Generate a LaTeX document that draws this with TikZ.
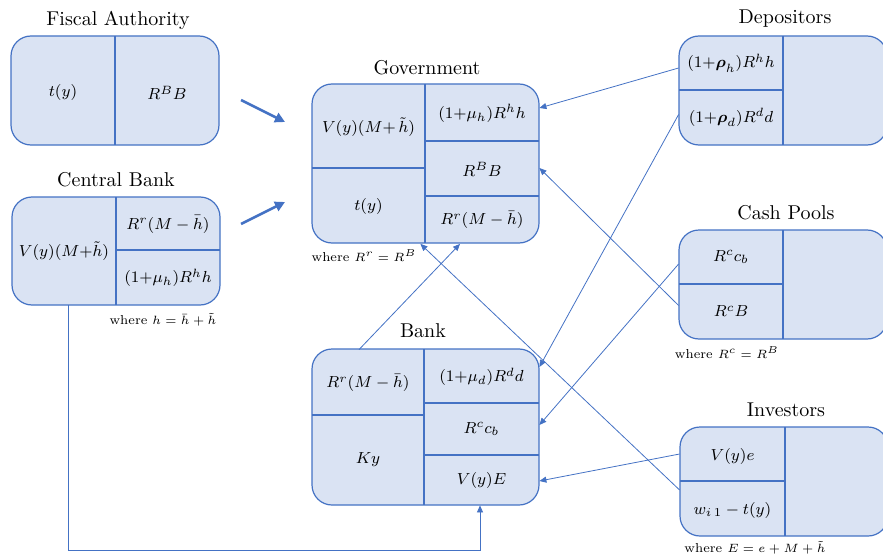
\documentclass[tikz,border=0pt]{standalone}
\usepackage{amsmath}
\usetikzlibrary{arrows.meta}
\definecolor{panelfill}{HTML}{DAE3F3}
\definecolor{panelline}{HTML}{4472C4}
\tikzset{
  panel/.style={draw=panelline, fill=panelfill, line width=0.6pt, rounded corners=10pt},
  divider/.style={draw=panelline, line width=0.6pt},
  cell/.style 2 args={inner sep=0pt, minimum width=#1*0.5pt, minimum height=#2*0.5pt,
    font=\fontsize{8.5}{10}\selectfont},
  note/.style={font=\fontsize{6.5}{7.5}\selectfont, inner sep=0pt},
  flow/.style={draw=panelline, line width=0.4pt, -{Triangle[length=3.5pt,width=3pt]}},
  bigflow/.style={draw=panelline, line width=1.3pt, -{Triangle[length=5pt,width=5pt]}},
}
\begin{document}
\begin{tikzpicture}[x=0.5pt,y=-0.5pt]
    \clip (0,0) rectangle (883,556);

    % Fiscal Authority
    \draw[panel] (11,36) rectangle (219,145);
    \draw[divider] (115,36) -- (115,145);
    \node (faTitle) at (118,20) {Fiscal Authority};
    \node[cell={104}{109}] (faL) at (63,93) {$t(y)$};
    \node[cell={104}{109}] (faR) at (167,93) {$R^BB$};

    % Central Bank
    \draw[panel] (12,197) rectangle (220,305);
    \draw[divider] (116,197) -- (116,305);
    \draw[divider] (116,250) -- (220,250);
    \node (cbTitle) at (116,180) {Central Bank};
    \node[cell={104}{108}] (cbL) at (64,251) {$V(y)(M{+}\tilde{h})$};
    \node[cell={104}{53}] (cbR1) at (168,224.5) {$R^r(M-\bar{h})$};
    \node[cell={104}{55}] (cbR2) at (168,278) {$(1{+}\mu_h)R^hh$};
    \node[note] (cbNote) at (163,320) {where $h=\bar{h}+\tilde{h}$};

    % Government
    \draw[panel] (312,84) rectangle (539,243);
    \draw[divider] (425,84) -- (425,243);
    \draw[divider] (312,168) -- (425,168);
    \draw[divider] (425,141) -- (539,141);
    \draw[divider] (425,196) -- (539,196);
    \node (govTitle) at (427,68) {Government};
    \node[cell={113}{84}] (govL1) at (368.5,127) {$V(y)(M{+}\,\tilde{h})$};
    \node[cell={113}{75}] (govL2) at (368.5,206) {$t(y)$};
    \node[cell={114}{57}] (govR1) at (482,113.5) {$(1{+}\mu_h)R^hh$};
    \node[cell={114}{55}] (govR2) at (482,169.5) {$R^BB$};
    \node[cell={114}{47}] (govR3) at (482,220) {$R^r(M-\bar{h})$};
    \node[note] (govNote) at (364,256) {where $R^r=R^B$};

    % Bank
    \draw[panel] (312,349) rectangle (539,505);
    \draw[divider] (424,349) -- (424,505);
    \draw[divider] (312,415) -- (424,415);
    \draw[divider] (424,403) -- (539,403);
    \draw[divider] (424,455) -- (539,455);
    \node (bkTitle) at (423,331) {Bank};
    \node[cell={112}{66}] (bkL1) at (368,383) {$R^r(M-\bar{h})$};
    \node[cell={112}{90}] (bkL2) at (368,460) {$Ky$};
    \node[cell={115}{54}] (bkR1) at (481.5,377) {$(1{+}\mu_d)R^dd$};
    \node[cell={115}{52}] (bkR2) at (481.5,429) {$R^cc_b$};
    \node[cell={115}{50}] (bkR3) at (481.5,480) {$V(y)E$};

    % Depositors
    \draw[panel] (679,36) rectangle (887,145);
    \draw[divider] (783,36) -- (783,145);
    \draw[divider] (679,90) -- (783,90);
    \node (dpTitle) at (785,19) {Depositors};
    \node[cell={104}{54}] (dpL1) at (731,63) {$(1{+}\boldsymbol{\rho}_h)R^hh$};
    \node[cell={104}{55}] (dpL2) at (731,117.5) {$(1{+}\boldsymbol{\rho}_d)R^dd$};

    % Cash Pools
    \draw[panel] (679,230) rectangle (887,339);
    \draw[divider] (783,230) -- (783,339);
    \draw[divider] (679,284) -- (783,284);
    \node (cpTitle) at (786,213) {Cash Pools};
    \node[cell={104}{54}] (cpL1) at (731,257) {$R^cc_b$};
    \node[cell={104}{55}] (cpL2) at (731,311.5) {$R^cB$};
    \node[note] (cpNote) at (727,353) {where $R^c=R^B$};

    % Investors
    \draw[panel] (680,427) rectangle (888,536);
    \draw[divider] (785,427) -- (785,536);
    \draw[divider] (680,481) -- (785,481);
    \node (ivTitle) at (786,410) {Investors};
    \node[cell={105}{54}] (ivL1) at (732.5,456) {$V(y)e$};
    \node[cell={105}{55}] (ivL2) at (732.5,510) {$w_{i\,1}-t(y)$};
    \node[note] (ivNote) at (755,548) {where $E=e+M+\tilde{h}$};

    % flows into the government
    \coordinate (faOut) at (241,100);
    \coordinate (cbOut) at (241,224);
    \coordinate (govInA) at (285,122);
    \coordinate (govInB) at (285,202);
    \draw[bigflow] (faOut) -- (govInA);
    \draw[bigflow] (cbOut) -- (govInB);

    \draw[flow] ([yshift=-2.5pt]dpL1.west) -- ([yshift=2.75pt]govR1.east);
    \draw[flow] ([yshift=1.5pt]dpL2.west) -- ([yshift=5pt]bkR1.east);
    \draw[flow] ([yshift=-3.5pt]cpL1.west) -- ([yshift=2pt]bkR2.east);
    \draw[flow] ([yshift=3pt]cpL2.west) -- ([yshift=0.75pt]govR2.east);
    \draw[flow] ([yshift=1pt]ivL1.west) -- ([yshift=-0.5pt]bkR3.east);
    \draw[flow] ([yshift=10pt]ivL2.west) -- ([xshift=-2.5pt]govL2.south east);
    \draw[flow] ([xshift=-4.5pt]bkL1.north) -- ([xshift=-11pt]govR3.south);
    \draw[flow] ([xshift=2pt]cbL.south) -- ++(0,245) -| ([xshift=-0.75pt]bkR3.south);
\end{tikzpicture}
\end{document}
